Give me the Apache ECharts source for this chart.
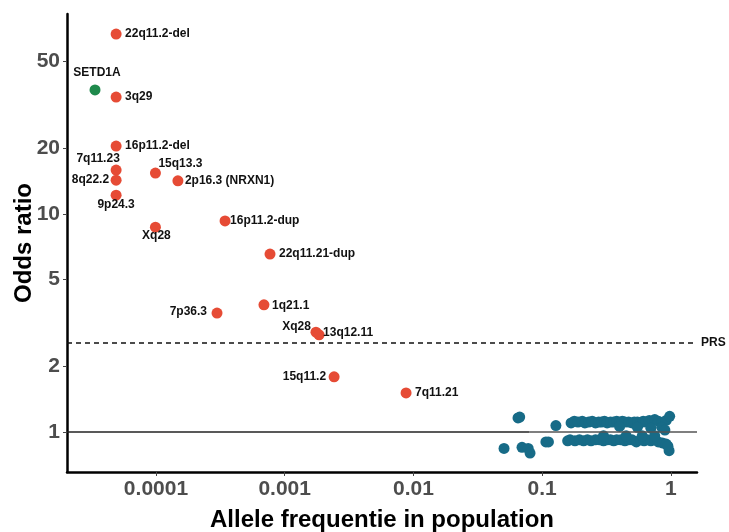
<!DOCTYPE html>
<html>
<head>
<meta charset="utf-8">
<script src="https://cdn.jsdelivr.net/npm/echarts@6/dist/echarts.min.js"></script>
<style>html,body{margin:0;padding:0;background:#fff}#c{width:729px;height:532px}</style>
</head>
<body>
<div id="c"></div>
<script>
// ---- data ----
var xTicks = [0.0001, 0.001, 0.01, 0.1, 1];
var xTickLabels = ['0.0001', '0.001', '0.01', '0.1', '1'];
var yTicks = [1, 2, 5, 10, 20, 50];
var yTickLabels = ['1', '2', '5', '10', '20', '50'];

var cnvNames = ['22q11.2-del', '3q29', '16p11.2-del', '7q11.23', '8q22.2', '9p24.3', '15q13.3', '2p16.3 (NRXN1)', 'Xq28', '16p11.2-dup', '22q11.21-dup', '7p36.3', '1q21.1', 'Xq28', '13q12.11', '15q11.2', '7q11.21'];
var cnvFreq  = [0.000049, 0.000049, 0.000049, 0.000049, 0.000049, 0.000049, 0.000099, 0.000148, 0.000099, 0.000344, 0.000769, 0.000298, 0.00069, 0.00175, 0.00185, 0.00242, 0.00877];
var cnvOR    = [66.9, 34.4, 20.5, 15.9, 14.3, 12.2, 15.4, 14.2, 8.7, 9.29, 6.55, 3.51, 3.83, 2.87, 2.79, 1.79, 1.51];

var snvNames = ['SETD1A'];
var snvFreq = [0.0000336];
var snvOR = [37.1];

var commonFreq = [0.0506, 0.065, 0.067, 0.0698, 0.078, 0.0806, 0.107, 0.112, 0.128,
  0.168, 0.178, 0.19, 0.205, 0.215, 0.23, 0.245, 0.26, 0.275, 0.29, 0.305, 0.32, 0.34, 0.36, 0.38, 0.40, 0.42, 0.44, 0.47, 0.50, 0.52, 0.55, 0.58, 0.61, 0.64, 0.68, 0.72, 0.75, 0.80, 0.85, 0.92, 0.98,
  0.40, 0.55, 0.70, 0.85, 0.90,
  0.158, 0.165, 0.18, 0.195, 0.21, 0.225, 0.24, 0.26, 0.28, 0.30, 0.32, 0.34, 0.36, 0.38, 0.41, 0.44, 0.47, 0.50, 0.54, 0.58, 0.62, 0.66, 0.70, 0.75, 0.80, 0.86, 0.92, 0.97, 0.95,
  0.30, 0.45, 0.60, 0.75];
var commonOR = [0.84, 1.16, 1.17, 0.85, 0.84, 0.80, 0.90, 0.90, 1.07,
  1.10, 1.12, 1.11, 1.12, 1.10, 1.11, 1.12, 1.10, 1.11, 1.11, 1.12, 1.10, 1.11, 1.11, 1.12, 1.10, 1.12, 1.11, 1.11, 1.10, 1.11, 1.11, 1.10, 1.12, 1.11, 1.13, 1.12, 1.14, 1.12, 1.10, 1.13, 1.18,
  1.06, 1.05, 1.04, 1.05, 1.02,
  0.91, 0.92, 0.91, 0.92, 0.91, 0.92, 0.91, 0.92, 0.92, 0.91, 0.92, 0.92, 0.91, 0.92, 0.92, 0.91, 0.92, 0.92, 0.90, 0.92, 0.91, 0.92, 0.91, 0.92, 0.90, 0.89, 0.88, 0.82, 0.86,
  0.96, 0.96, 0.96, 0.96];

var prsOR = 2.56;
var refOR = 1;

// label placement (presentation only): [dx, dy, align]
var cnvLabelPos = [[9,0,'left'],[9,0,'left'],[9,0,'left'],[-18,-11,'center'],[-7,0,'right'],[0,10,'center'],[3,-9,'left'],[7,0,'left'],[1,9,'center'],[5,0,'left'],[9,0,'left'],[-10,-1,'right'],[8,1,'left'],[-5,-5,'right'],[4,-2,'left'],[-8,0,'right'],[9,0,'left']];

var X_MIN = 0.00002035, X_MAX = 1.598, Y_MIN = 0.655, Y_MAX = 82.7;
var FONT = '"Liberation Sans", Arial, sans-serif';

function lbl(dx, dy, align) {
  return { show: true, formatter: '{b}', position: 'inside', offset: [dx, dy], align: align, verticalAlign: 'middle',
    color: '#111', fontWeight: 'bold', fontSize: 12, fontFamily: FONT };
}

var cnvData = cnvNames.map(function (n, i) {
  var p = cnvLabelPos[i];
  return { name: n, value: [cnvFreq[i], cnvOR[i]], label: lbl(p[0], p[1], p[2]) };
});
var snvData = snvNames.map(function (n, i) {
  return { name: n, value: [snvFreq[i], snvOR[i]], label: lbl(2, -17, 'center') };
});
var commonData = commonFreq.map(function (f, i) { return [f, commonOR[i]]; });

function fmt(ticks, labels) {
  return function (v) {
    var k = ticks.findIndex(function (t) { return Math.abs(Math.log10(t) - Math.log10(v)) < 1e-6; });
    return k >= 0 ? labels[k] : '';
  };
}

var chart = echarts.init(document.getElementById('c'), null, { renderer: 'canvas' });
chart.setOption({
  animation: false,
  backgroundColor: '#fff',
  grid: { left: 67, right: 32, top: 14, bottom: 60, containLabel: false, outerBoundsMode: 'none' },
  xAxis: {
    type: 'log', logBase: 10, min: X_MIN, max: X_MAX,
    name: 'Allele frequentie in population', nameLocation: 'middle', nameGap: 36, nameMoveOverlap: false,
    nameTextStyle: { fontSize: 24, fontWeight: 'bold', color: '#000', fontFamily: FONT },
    axisLine: { show: true, lineStyle: { color: '#000', width: 2.5 } },
    axisTick: { show: true, length: 4, lineStyle: { color: '#444', width: 1 }, customValues: xTicks },
    axisLabel: { customValues: xTicks, margin: 7, fontSize: 21, fontWeight: 'bold', color: '#4d4d4d', fontFamily: FONT, formatter: fmt(xTicks, xTickLabels) },
    splitLine: { show: false }, minorTick: { show: false }
  },
  yAxis: {
    type: 'log', logBase: 10, min: Y_MIN, max: Y_MAX,
    name: 'Odds ratio', nameLocation: 'middle', nameGap: 31, nameRotate: 90, nameMoveOverlap: false,
    nameTextStyle: { fontSize: 24, fontWeight: 'bold', color: '#000', fontFamily: FONT },
    axisLine: { show: true, lineStyle: { color: '#000', width: 2.5 } },
    axisTick: { show: true, length: 4, lineStyle: { color: '#444', width: 1 }, customValues: yTicks },
    axisLabel: { customValues: yTicks, margin: 7, fontSize: 21, fontWeight: 'bold', color: '#4d4d4d', fontFamily: FONT, formatter: fmt(yTicks, yTickLabels) },
    splitLine: { show: false }
  },
  series: [
    {
      type: 'scatter', name: 'common', data: commonData, symbolSize: 11,
      itemStyle: { color: '#176b87', opacity: 1 }, z: 2,
      markLine: {
        silent: true, symbol: 'none', z: 5,
        data: [
          [{ coord: [X_MIN, refOR], lineStyle: { color: '#222', width: 1.5, type: 'solid' } }, { coord: [0.08, refOR] }],
          [{ coord: [0.08, refOR], lineStyle: { color: '#555', width: 1.5, type: 'solid' } }, { coord: [X_MAX, refOR] }],
          { yAxis: prsOR, lineStyle: { color: '#111', width: 1.5, type: [5, 4] },
            label: { show: true, position: 'end', formatter: 'PRS', distance: 4, color: '#111', fontWeight: 'bold', fontSize: 12, fontFamily: FONT } }
        ],
        label: { show: false }
      }
    },
    { type: 'scatter', name: 'cnv', data: cnvData, symbolSize: 11, itemStyle: { color: '#e64b35', opacity: 1 }, z: 3 },
    { type: 'scatter', name: 'snv', data: snvData, symbolSize: 11, itemStyle: { color: '#1f8a4c', opacity: 1 }, z: 3 }
  ]
});
</script>
</body>
</html>
